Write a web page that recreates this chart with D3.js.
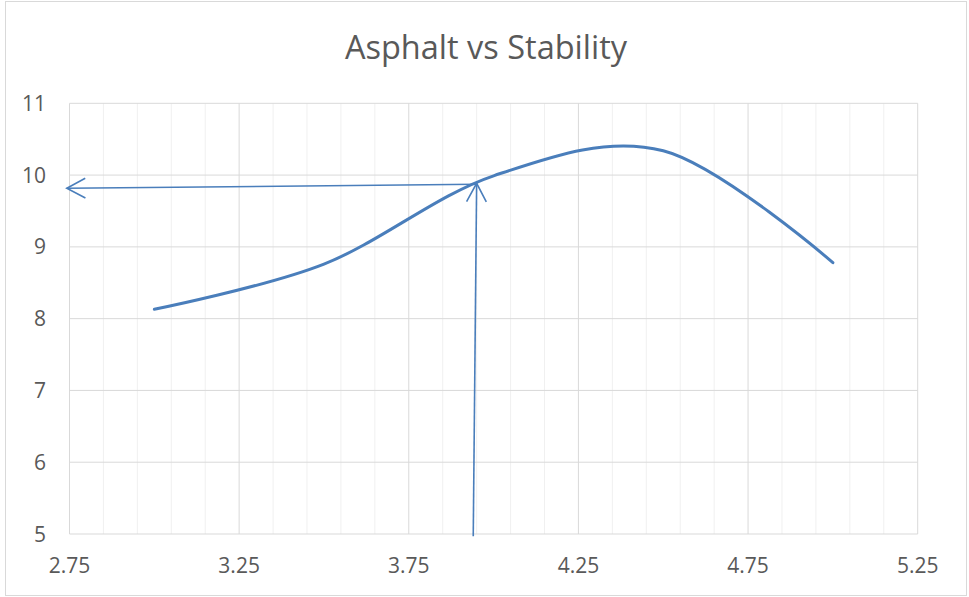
<!DOCTYPE html>
<html><head><meta charset="utf-8">
<script src="https://cdn.jsdelivr.net/npm/d3@7"></script>
<style>body{margin:0;background:#fff}svg{display:block}</style>
</head><body>
<svg id="c" width="969" height="597"></svg>
<script>
const title = "Asphalt vs Stability";
const asphalt = [3.0, 3.5, 4.0, 4.5, 5.0];
const stability = [8.13, 8.76, 9.99, 10.34, 8.78];
const xTicks = [2.75, 3.25, 3.75, 4.25, 4.75, 5.25];
const yTicks = [5, 6, 7, 8, 9, 10, 11];
const xMinor = [2.85,2.95,3.05,3.15,3.35,3.45,3.55,3.65,3.85,3.95,4.05,4.15,4.35,4.45,4.55,4.65,4.85,4.95,5.05,5.15];
// reading lines drawn on chart: [x1,y1,x2,y2]
const arrowUp = [3.940, 4.97, 3.950, 9.886];
const arrowLeft = [3.950, 9.872, 2.742, 9.816];

const svg = d3.select("#c");
const L = 69.5, R = 917.7, T = 103.3, B = 534;
const x = d3.scaleLinear().domain([2.75, 5.25]).range([L, R]);
const y = d3.scaleLinear().domain([5, 11]).range([B, T]);
const FONT = "'Open Sans', Lato, sans-serif";
const blue = "#4a7ebb";

svg.append("rect").attr("x",5.5).attr("y",1.5).attr("width",961).attr("height",594)
  .attr("fill","#fff").attr("stroke","#d9d9d9").attr("stroke-width",1);

svg.append("text").attr("x",486).attr("y",59).attr("text-anchor","middle")
  .attr("font-family",FONT).attr("font-size",32.5).attr("fill","#595959").text(title);

const g = svg.append("g");
g.selectAll(".xm").data(xMinor).join("line")
  .attr("x1",d=>x(d)).attr("x2",d=>x(d)).attr("y1",T).attr("y2",B)
  .attr("stroke","#f0f0f0").attr("stroke-width",1);
g.selectAll(".xg").data(xTicks).join("line")
  .attr("x1",d=>x(d)).attr("x2",d=>x(d)).attr("y1",T).attr("y2",B)
  .attr("stroke","#d9d9d9").attr("stroke-width",1);
g.selectAll(".yg").data(yTicks).join("line")
  .attr("x1",L).attr("x2",R).attr("y1",d=>y(d)).attr("y2",d=>y(d))
  .attr("stroke","#d9d9d9").attr("stroke-width",1);

svg.selectAll(".xl").data(xTicks).join("text")
  .attr("x",d=>x(d)).attr("y",573).attr("text-anchor","middle")
  .attr("font-family",FONT).attr("font-size",21).attr("fill","#595959")
  .text(d=>d3.format(".2f")(d));
svg.selectAll(".yl").data(yTicks).join("text")
  .attr("x",46).attr("y",d=>y(d)).attr("dy","0.36em").attr("text-anchor","end")
  .attr("font-family",FONT).attr("font-size",21).attr("fill","#595959")
  .text(d=>d);

const pts = asphalt.map((a,i)=>[a, stability[i]]);
svg.append("path").datum(pts)
  .attr("d", d3.line().x(d=>x(d[0])).y(d=>y(d[1])).curve(d3.curveCardinal.tension(0)))
  .attr("fill","none").attr("stroke",blue).attr("stroke-width",3).attr("stroke-linecap","round");

function arrow(a){
  const x1=x(a[0]),y1=y(a[1]),x2=x(a[2]),y2=y(a[3]);
  svg.append("line").attr("x1",x1).attr("y1",y1).attr("x2",x2).attr("y2",y2)
    .attr("stroke",blue).attr("stroke-width",1.6);
  const ang=Math.atan2(y2-y1,x2-x1), len=21, spread=28*Math.PI/180;
  const p1=[x2-len*Math.cos(ang-spread), y2-len*Math.sin(ang-spread)];
  const p2=[x2-len*Math.cos(ang+spread), y2-len*Math.sin(ang+spread)];
  svg.append("path").attr("d",`M${p1}L${x2},${y2}L${p2}`)
    .attr("fill","none").attr("stroke",blue).attr("stroke-width",1.6);
}
arrow(arrowUp);
arrow(arrowLeft);
</script>
</body></html>
